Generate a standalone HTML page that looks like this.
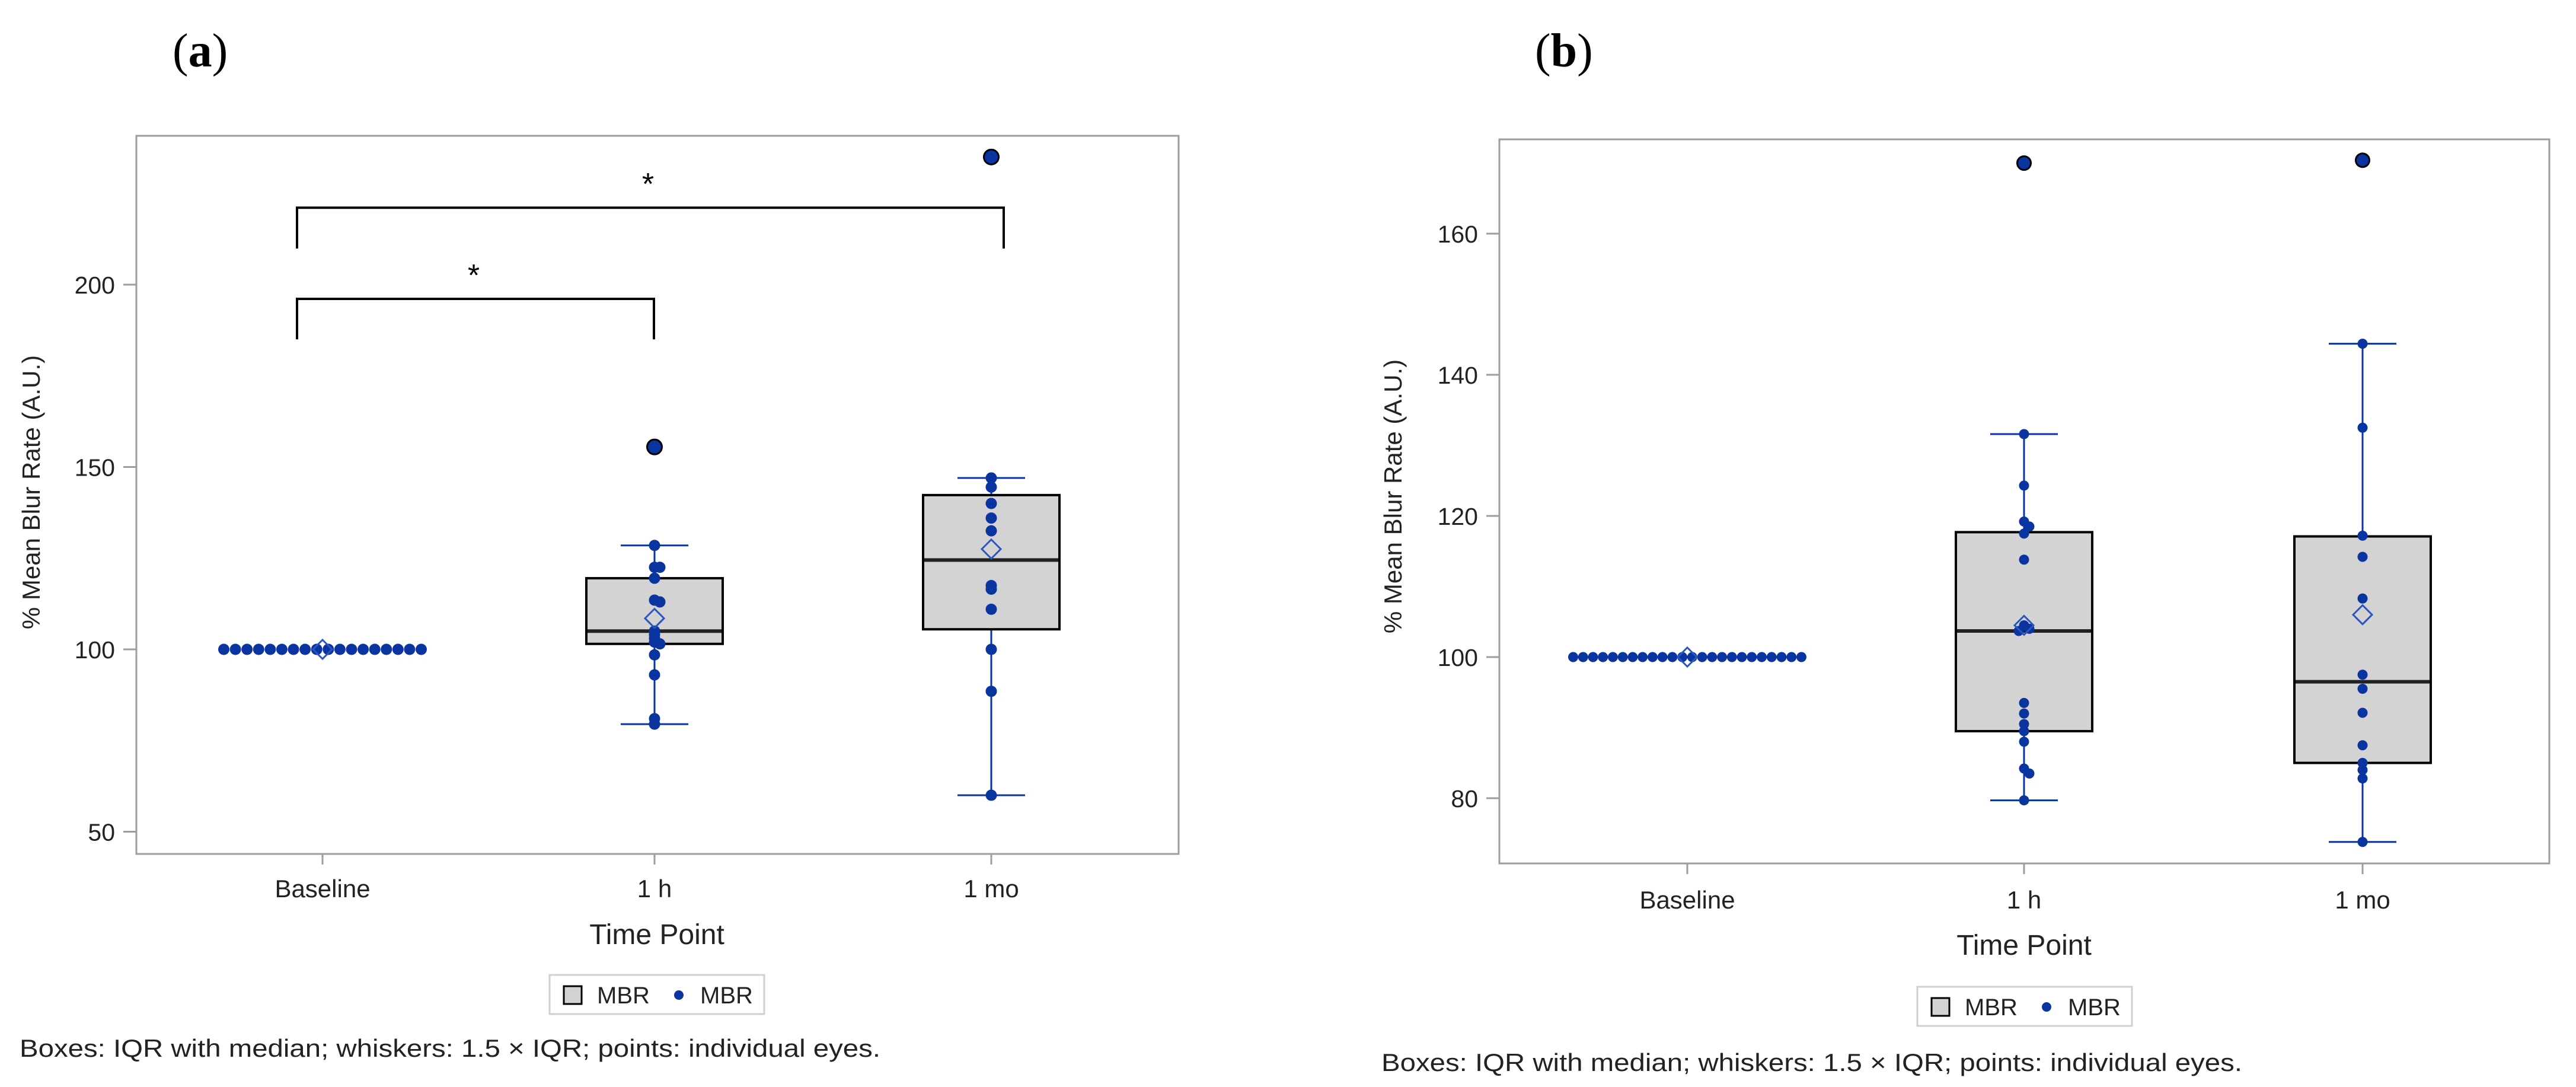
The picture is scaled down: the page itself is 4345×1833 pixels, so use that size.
<!DOCTYPE html>
<html><head><meta charset="utf-8">
<style>
html,body{margin:0;padding:0;background:#fff;}
svg{display:block;font-family:"Liberation Sans",Arial,sans-serif;}
</style></head>
<body>
<svg id="fig" width="4345" height="1833" viewBox="0 0 4345 1833" xmlns="http://www.w3.org/2000/svg">
<rect x="0" y="0" width="4345" height="1833" fill="#fff"/>
<text x="291" y="112" font-family="Liberation Serif,serif" font-size="80">(<tspan font-weight="bold">a</tspan>)</text>
<text x="2589" y="112" font-family="Liberation Serif,serif" font-size="80">(<tspan font-weight="bold">b</tspan>)</text>
<g id="pa"></g>
<g id="pb"></g>
</svg>
<script>
// ---------- data ----------
const categories = ["Baseline", "1 h", "1 mo"];
// Panel (a)
const aTicks = [50, 100, 150, 200];
const aBaseline = [100,100,100,100,100,100,100,100,100,100,100,100,100,100,100,100,100,100];
const a1h = [128.5,122.5,122.5,119.5,113.5,113,105,104,103,102,101.5,98.5,93,81,79.5];
const a1mo = [147,144.5,140,136,132.5,117.5,116.5,111,100,88.5,60];
const aQ1 = [100, 101.5, 105.5];
const aMedian = [100, 105, 124.5];
const aQ3 = [100, 119.5, 142.3];
const aWhiskLo = [100, 79.5, 60];
const aWhiskHi = [100, 128.5, 147];
const aMean = [100, 108.5, 127.5];
const aOutliers1h = [155.5];
const aOutliers1mo = [235];
// Panel (b)
const bTicks = [80, 100, 120, 140, 160];
const bBaseline = [100,100,100,100,100,100,100,100,100,100,100,100,100,100,100,100,100,100,100,100,100,100,100,100];
const b1h = [131.6,124.3,119.2,118.5,117.5,113.8,104.5,104,103.7,93.5,92,90.5,89.5,88,84.2,83.5,79.7];
const b1mo = [144.4,132.5,117.2,114.2,108.3,97.5,95.5,92.1,87.5,85,84,82.8,73.8];
const bQ1 = [100, 89.5, 85];
const bMedian = [100, 103.7, 96.5];
const bQ3 = [100, 117.7, 117.1];
const bWhiskLo = [100, 79.7, 73.8];
const bWhiskHi = [100, 131.6, 144.4];
const bMean = [100, 104.5, 106];
const bOutliers1h = [170];
const bOutliers1mo = [170.4];

const NS = "http://www.w3.org/2000/svg";
const BLUE = "#0a35a0";
function mk(parent, tag, attrs){
  const e = document.createElementNS(NS, tag);
  for (const k in attrs) e.setAttribute(k, attrs[k]);
  parent.appendChild(e);
  return e;
}

function drawPanel(g, cfg){
  const {L,R,T,B,yAt,xCat,ticks,base,pts,q1,med,q3,lo,hi,mean,outs,r,baseSpan} = cfg;
  const fr = mk(g,"rect",{x:L,y:T,width:R-L,height:B-T,fill:"none",stroke:"#9a9ea3","stroke-width":3});
  
  
  ticks.forEach(v=>{
    const y = yAt(v);
    const tk = mk(g,"line",{x1:L-22,x2:L,y1:y,y2:y,stroke:"#9a9ea3","stroke-width":3});
    
    
    const t = mk(g,"text",{x:L-36,y:y+15,"text-anchor":"end","font-size":41,fill:"#222"});
    t.textContent = v;
    
    
  });
  categories.forEach((c,i)=>{
    const x = xCat(i);
    const tk = mk(g,"line",{x1:x,x2:x,y1:B,y2:B+18,stroke:"#9a9ea3","stroke-width":3});
    
    
    const t = mk(g,"text",{x:x,y:cfg.catY,"text-anchor":"middle","font-size":42,fill:"#222"});
    t.textContent = c;
    
    
  });
  [1,2].forEach(i=>{
    const x = xCat(i);
    const wl = mk(g,"line",{x1:x,x2:x,y1:yAt(lo[i]),y2:yAt(hi[i]),stroke:BLUE,"stroke-width":3});
    
    
    [lo[i],hi[i]].forEach(v=>{
      const c = mk(g,"line",{x1:x-57,x2:x+57,y1:yAt(v),y2:yAt(v),stroke:BLUE,"stroke-width":3});
      
      
    });
    const bx = mk(g,"rect",{x:x-115,y:yAt(q3[i]),width:230,height:yAt(q1[i])-yAt(q3[i]),fill:"#d3d3d3",stroke:"#000","stroke-width":4});
    
    
    const md = mk(g,"line",{x1:x-113,x2:x+113,y1:yAt(med[i]),y2:yAt(med[i]),stroke:"#222","stroke-width":6});
    
    
  });
  const bx0 = xCat(0);
  base.forEach((v,j)=>{
    const x = bx0 - baseSpan/2 + j*baseSpan/(base.length-1);
    const d = mk(g,"circle",{cx:x,cy:yAt(v),r:r,fill:BLUE});
    
    
  });
  [pts[0],pts[1]].forEach((arr,k)=>{
    const x = xCat(k+1);
    let prev = null, side = 1;
    arr.forEach(v=>{
      let dx = 0;
      if (prev !== null && Math.abs(prev - v) < 0.8){ dx = side*9; side = -side; } else side = 1;
      prev = v;
      const d = mk(g,"circle",{cx:x+dx,cy:yAt(v),r:r,fill:BLUE});
      
      
    });
  });
  [outs[0],outs[1]].forEach((arr,k)=>{
    arr.forEach(v=>{
      const o = mk(g,"circle",{cx:xCat(k+1),cy:yAt(v),r:r+3,fill:BLUE,stroke:"#000","stroke-width":3});
      
      
    });
  });
  mean.forEach((v,i)=>{
    const x = xCat(i), y = yAt(v), s = 16;
    const m = mk(g,"polygon",{points:`${x},${y-s} ${x+s},${y} ${x},${y+s} ${x-s},${y}`,fill:"none",stroke:"#2a55c0","stroke-width":3});
    
    
  });
}

function axisTexts(g, o){
  const xt = mk(g,"text",{x:o.xtX,y:o.xtY,"text-anchor":"middle","font-size":48,fill:"#222"});
  xt.textContent = "Time Point";
  
  
  const yt = mk(g,"text",{x:0,y:0,"text-anchor":"middle","font-size":42,fill:"#222",transform:`translate(${o.ytX},${o.ytY}) rotate(-90)`});
  yt.textContent = "% Mean Blur Rate (A.U.)";
  
  
  const lg = mk(g,"g",{});
  
  
  mk(lg,"rect",{x:o.lgX,y:o.lgY,width:362,height:66,fill:"#fff",stroke:"#d0d0d0","stroke-width":3});
  const sw = mk(lg,"rect",{x:o.lgX+24,y:o.lgY+19,width:30,height:30,fill:"#d3d3d3",stroke:"#000","stroke-width":3});
  
  
  const t1 = mk(lg,"text",{x:o.lgX+80,y:o.lgY+48,"font-size":40,fill:"#222"});
  t1.textContent = "MBR";
  
  
  const dt = mk(lg,"circle",{cx:o.lgX+218,cy:o.lgY+34,r:8,fill:BLUE});
  
  
  const t2 = mk(lg,"text",{x:o.lgX+254,y:o.lgY+48,"font-size":40,fill:"#222"});
  t2.textContent = "MBR";
  
  
  const cap = mk(g,"text",{x:o.capX,y:o.capY,"font-size":42,fill:"#222",textLength:1452,lengthAdjust:"spacingAndGlyphs"});
  cap.textContent = "Boxes: IQR with median; whiskers: 1.5 \u00D7 IQR; points: individual eyes.";
  
  
}

const ga = document.getElementById('pa');
const aY = v => 1095 - (v - 100) * 6.15;
const aXpos = [544, 1104, 1672];
drawPanel(ga,{L:230,R:1988,T:229,B:1440,yAt:aY,xCat:i=>aXpos[i],ticks:aTicks,base:aBaseline,pts:[a1h,a1mo],
  q1:aQ1,med:aMedian,q3:aQ3,lo:aWhiskLo,hi:aWhiskHi,mean:aMean,outs:[aOutliers1h,aOutliers1mo],r:9.5,baseSpan:333,catY:1513});
const bracketTop = [221.1, 209.9];
const bracketLow = [196.1, 185.0];
function bracket(x1,x2,top,leg,starX,name){
  const p = mk(ga,"path",{d:`M${x1},${aY(leg)} L${x1},${aY(top)} L${x2},${aY(top)} L${x2},${aY(leg)}`,fill:"none",stroke:"#000","stroke-width":4});
  
  
  const s = mk(ga,"text",{x:starX,y:aY(top)-22,"text-anchor":"middle","font-size":52,fill:"#000"});
  s.textContent = "*";
  
  
}
bracket(501,1693,bracketTop[0],bracketTop[1],1093,'bracket-baseline-1mo');
bracket(501,1103,bracketLow[0],bracketLow[1],799,'bracket-baseline-1h');
axisTexts(ga,{xtX:1108,xtY:1592,ytX:67,ytY:830,lgX:927,lgY:1644,capX:33,capY:1782});

const gb = document.getElementById('pb');
const bY = v => 1108 - (v - 100) * 11.9;
const bXpos = [2846, 3414, 3985];
drawPanel(gb,{L:2529,R:4300,T:235,B:1456,yAt:bY,xCat:i=>bXpos[i],ticks:bTicks,base:bBaseline,pts:[b1h,b1mo],
  q1:bQ1,med:bMedian,q3:bQ3,lo:bWhiskLo,hi:bWhiskHi,mean:bMean,outs:[bOutliers1h,bOutliers1mo],r:8.5,baseSpan:385,catY:1532});
axisTexts(gb,{xtX:3414,xtY:1610,ytX:2364,ytY:837,lgX:3234,lgY:1664,capX:2330,capY:1806});
</script>
</body></html>
